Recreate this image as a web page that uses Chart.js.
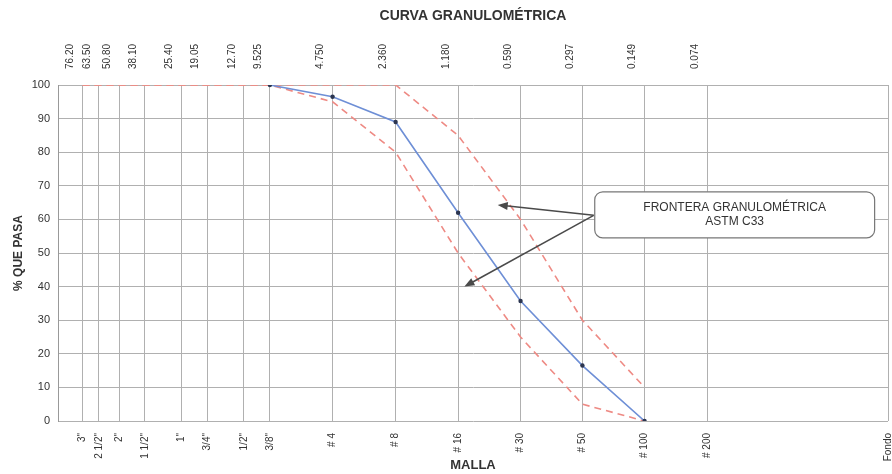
<!DOCTYPE html>
<html>
<head>
<meta charset="utf-8">
<script src="https://cdn.jsdelivr.net/npm/chart.js@4.4.1/dist/chart.umd.min.js"></script>
<style>
  body { margin: 0; background: #fff; }
  #wrap { width: 892px; height: 474px; }
</style>
</head>
<body>
<div id="wrap"><canvas id="curvaChart" width="892" height="474"></canvas></div>
<script>
/* ---------- datos ---------- */
const tamices = [76.2, 63.5, 50.8, 38.1, 25.4, 19.05, 12.7, 9.525, 4.75, 2.36, 1.18, 0.59, 0.297, 0.149, 0.074];
const aberturas = ["76.20", "63.50", "50.80", "38.10", "25.40", "19.05", "12.70", "9.525", "4.750", "2.360", "1.180", "0.590", "0.297", "0.149", "0.074"];
const mallas = ['3"', '2 1/2"', '2"', '1 1/2"', '1"', '3/4"', '1/2"', '3/8"', "# 4", "# 8", "# 16", "# 30", "# 50", "# 100", "# 200", "Fondo"];
const tamFondo = 0.01;

const tamMuestra = [9.525, 4.75, 2.36, 1.18, 0.59, 0.297, 0.149];
const pasaMuestra = [100, 96.5, 89, 62, 35.7, 16.5, 0];

const tamLimites = [76.2, 63.5, 50.8, 38.1, 25.4, 19.05, 12.7, 9.525, 4.75, 2.36, 1.18, 0.59, 0.297, 0.149];
const limiteSuperior = [100, 100, 100, 100, 100, 100, 100, 100, 100, 100, 85, 60, 30, 10];
const limiteInferior = [100, 100, 100, 100, 100, 100, 100, 100, 95, 80, 50, 25, 5, 0];

const notaTexto = ["FRONTERA GRANULOMÉTRICA", "ASTM C33"];

/* ---------- llamada (caja + flechas) ---------- */
const nota = {
    caja: { x1: 0.259, x2: 0.0116, y1: 68.2, y2: 54.5 },
    origen: { x: 0.262, y: 61.2 },
    puntas: [{ x: 0.76, y: 64.3 }, { x: 1.10, y: 40 }],
};

function flecha(ctx, x0, y0, x1, y1) {
    const ang = Math.atan2(y1 - y0, x1 - x0);
    const L = 10, W = 4;
    ctx.beginPath();
    ctx.moveTo(x0, y0);
    ctx.lineTo(x1 - L * 0.8 * Math.cos(ang), y1 - L * 0.8 * Math.sin(ang));
    ctx.stroke();
    ctx.beginPath();
    ctx.moveTo(x1, y1);
    ctx.lineTo(x1 - L * Math.cos(ang) + W * Math.sin(ang), y1 - L * Math.sin(ang) - W * Math.cos(ang));
    ctx.lineTo(x1 - L * Math.cos(ang) - W * Math.sin(ang), y1 - L * Math.sin(ang) + W * Math.cos(ang));
    ctx.closePath();
    ctx.fill();
}

const notaPlugin = {
    id: "notaPlugin",
    afterDatasetsDraw(chart) {
        const ctx = chart.ctx;
        const sx = chart.scales.x, sy = chart.scales.y;
        const bx1 = sx.getPixelForValue(nota.caja.x1), bx2 = sx.getPixelForValue(nota.caja.x2);
        const by1 = sy.getPixelForValue(nota.caja.y1), by2 = sy.getPixelForValue(nota.caja.y2);
        ctx.save();
        ctx.strokeStyle = "#4a4a4a";
        ctx.fillStyle = "#4a4a4a";
        ctx.lineWidth = 1.5;
        const ox = sx.getPixelForValue(nota.origen.x), oy = sy.getPixelForValue(nota.origen.y);
        nota.puntas.forEach((p) => {
            flecha(ctx, ox, oy, sx.getPixelForValue(p.x), sy.getPixelForValue(p.y));
        });
        ctx.beginPath();
        ctx.fillStyle = "#fff";
        ctx.strokeStyle = "#777";
        ctx.lineWidth = 1.2;
        ctx.roundRect(bx1, by1, bx2 - bx1, by2 - by1, 8);
        ctx.fill();
        ctx.stroke();
        ctx.fillStyle = "#333";
        ctx.font = "12px 'Liberation Sans', Arial, sans-serif";
        ctx.textAlign = "center";
        ctx.textBaseline = "middle";
        const cx = (bx1 + bx2) / 2, cy = (by1 + by2) / 2;
        ctx.fillText(notaTexto[0], cx, cy - 7);
        ctx.fillText(notaTexto[1], cx, cy + 7);
        ctx.restore();
    },
};

Chart.defaults.font.family = "'Liberation Sans', Arial, sans-serif";
Chart.defaults.color = "#333";

const puntos = (xs, ys) => xs.map((x, i) => ({ x: x, y: ys[i] }));
const sinRelleno = (s) => { s.paddingLeft = 0; s.paddingRight = 0; };

const config = {
    type: "line",
    data: {
        datasets: [
            {
                label: "Muestra",
                data: puntos(tamMuestra, pasaMuestra),
                borderColor: "#6e8fd6",
                borderWidth: 1.6,
                pointRadius: 2.2,
                pointBackgroundColor: "#2b3550",
                pointBorderColor: "#2b3550",
                pointBorderWidth: 0,
                tension: 0,
            },
            {
                label: "Límite superior",
                data: puntos(tamLimites, limiteSuperior),
                borderColor: "#ee8a84",
                borderWidth: 1.6,
                borderDash: [7, 5],
                pointRadius: 0,
                tension: 0,
            },
            {
                label: "Límite inferior",
                data: puntos(tamLimites, limiteInferior),
                borderColor: "#ee8a84",
                borderWidth: 1.6,
                borderDash: [7, 5],
                pointRadius: 0,
                tension: 0,
            },
        ],
    },
    options: {
        responsive: false,
        animation: false,
        layout: { padding: { left: 4, right: 4, top: 0, bottom: 1 } },
        plugins: {
            legend: { display: false },
            tooltip: { enabled: false },
        },
        scales: {
            x: {
                type: "logarithmic",
                position: "bottom",
                reverse: true,
                min: tamFondo,
                max: 100,
                afterBuildTicks: (s) => {
                    s.ticks = tamices.concat([tamFondo]).map((v) => ({ value: v }));
                },
                afterFit: (s) => { s.height = 52; sinRelleno(s); },
                ticks: {
                    autoSkip: false,
                    minRotation: 90,
                    maxRotation: 90,
                    padding: 12,
                    font: { size: 10 },
                    callback: (v, i) => mallas[i],
                },
                grid: { color: "#b0b0b0", drawTicks: false },
                border: { display: false },
                title: {
                    display: true,
                    text: "MALLA",
                    font: { size: 13, weight: "bold" },
                    padding: { top: 0, bottom: 0 },
                },
            },
            x2: {
                type: "logarithmic",
                position: "top",
                reverse: true,
                min: tamFondo,
                max: 100,
                afterBuildTicks: (s) => {
                    s.ticks = tamices.map((v) => ({ value: v }));
                },
                afterFit: (s) => { s.height = 85; sinRelleno(s); },
                ticks: {
                    autoSkip: false,
                    minRotation: 90,
                    maxRotation: 90,
                    padding: 16,
                    font: { size: 10 },
                    callback: (v, i) => aberturas[i],
                },
                grid: { display: false, drawTicks: false },
                border: { display: false },
                title: {
                    display: true,
                    text: "CURVA GRANULOMÉTRICA",
                    font: { size: 14, weight: "bold" },
                    padding: { top: 8, bottom: 0 },
                },
            },
            y: {
                min: 0,
                max: 100,
                afterFit: (s) => { s.width = 54; },
                ticks: { stepSize: 10, padding: 8, font: { size: 11 } },
                grid: { color: "#b0b0b0", drawTicks: false },
                border: { color: "#999" },
                title: {
                    display: true,
                    text: "% QUE PASA",
                    font: { size: 12, weight: "bold" },
                    padding: { top: 7, bottom: 0 },
                },
            },
        },
    },
    plugins: [notaPlugin],
};

const curvaChart = new Chart(document.getElementById("curvaChart"), config);
</script>
</body>
</html>
